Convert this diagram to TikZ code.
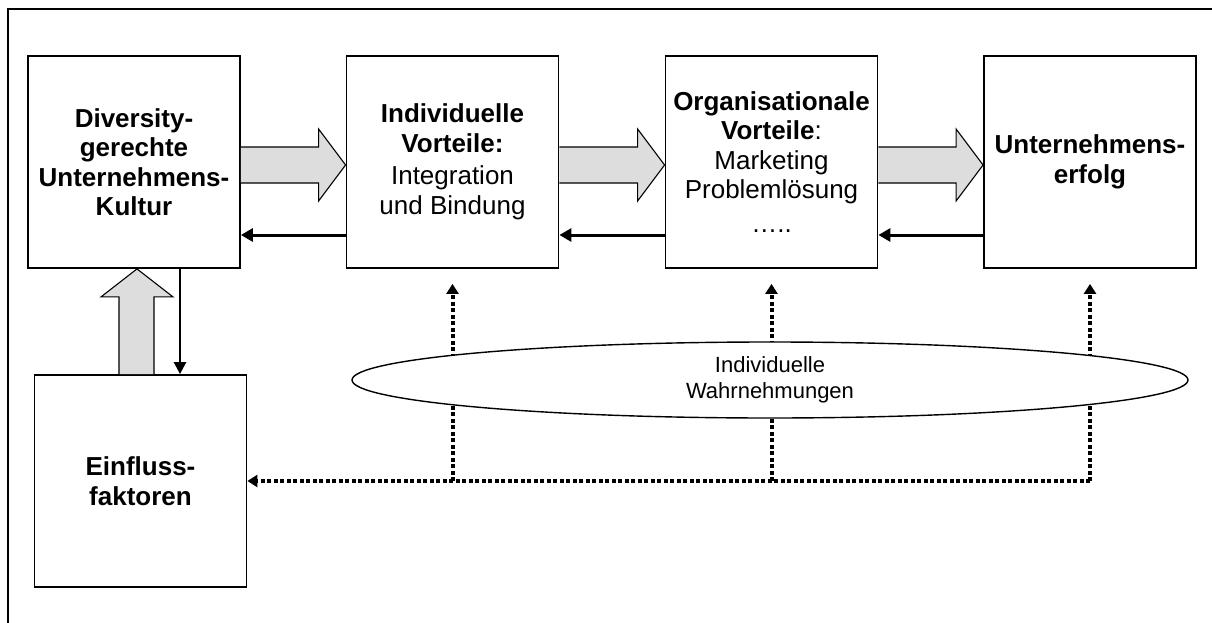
\documentclass[tikz,border=0pt]{standalone}
\usepackage{fontspec}
\setmainfont{Liberation Sans}
\usetikzlibrary{arrows.meta,calc,shapes.geometric}
\definecolor{arrowgray}{RGB}{221,221,221}
\tikzset{
  box/.style={draw=black, line width=1.8pt, fill=white, minimum width=212pt,
    minimum height=212pt, inner sep=0pt, align=center,
    font=\fontsize{26}{29.5}\selectfont},
  fatarrow/.style={fill=arrowgray, draw=black, line width=1.1pt, line join=miter},
  backarrow/.style={line width=3pt, -{Triangle[length=12pt,width=13pt]}},
  downarrow/.style={line width=2.5pt, -{Triangle[length=12pt,width=12pt]}},
  dotline/.style={line width=4pt, dash pattern=on 4pt off 2.5pt},
  dotarrow/.style={dotline, -{Triangle[length=10pt,width=12pt]}},
  perception/.style={ellipse, draw=black, line width=1.4pt, fill=white,
    minimum width=836pt, minimum height=76pt, inner sep=0pt, align=center,
    font=\fontsize{22}{26}\selectfont},
  frame/.style={line width=1.8pt}
}
\newcommand{\fatright}[2]{%
  \filldraw[fatarrow]
    ($(#1.east)+(0,-15)$) -- ($(#2.west)+(-27,-15)$) -- ($(#2.west)+(-27,-33)$)
    -- ($(#2.west)+(0,3)$) -- ($(#2.west)+(-27,39)$) -- ($(#2.west)+(-27,21)$)
    -- ($(#1.east)+(0,21)$);}
\begin{document}
\begin{tikzpicture}[x=1pt, y=-1pt]
\useasboundingbox (0,0) rectangle (1212,623);

% outer frame (open to the right and bottom)
\draw[frame] (8,623) -- (8,9) -- (1212,9);

% main chain of boxes
\node[box] (kultur) at (134,162)
  {\textbf{Diversity-}\\\textbf{gerechte}\\\textbf{Unternehmens-}\\\textbf{Kultur}};
\node[box] (indiv) at (452.5,162)
  {\textbf{Individuelle}\\\textbf{Vorteile:}\\[3pt]Integration\\und Bindung};
\node[box] (orga) at (771.5,162)
  {\textbf{Organisationale}\\\textbf{Vorteile}:\\Marketing\\Problemlösung\\[4pt]…..};
\node[box] (erfolg) at (1090,162)
  {\textbf{Unternehmens-}\\\textbf{erfolg}};
\node[box] (einfluss) at (140.5,481)
  {\textbf{Einfluss-}\\\textbf{faktoren}};

% broad grey arrows between the boxes
\fatright{kultur}{indiv}
\fatright{indiv}{orga}
\fatright{orga}{erfolg}

% feedback arrows
\draw[backarrow] ($(indiv.west)+(0,73)$) -- ($(kultur.east)+(0,73)$);
\draw[backarrow] ($(orga.west)+(0,73)$) -- ($(indiv.east)+(0,73)$);
\draw[backarrow] ($(erfolg.west)+(0,73)$) -- ($(orga.east)+(0,73)$);

% influence factors feed the culture
\coordinate (upL) at ($(kultur.south)+(-15,0)$);
\coordinate (upR) at ($(kultur.south)+(20,0)$);
\filldraw[fatarrow]
  (upL |- einfluss.north) -- ($(upL)+(0,28)$)
  -- ($(kultur.south)+(-33,28)$) -- ($(kultur.south)+(3,0)$)
  -- ($(kultur.south)+(39,28)$) -- ($(upR)+(0,28)$)
  -- (upR |- einfluss.north);
\coordinate (downstart) at ($(kultur.south)+(46,0)$);
\draw[downarrow] (downstart) -- (downstart |- einfluss.north);

% dotted perception links
\coordinate (corner) at (erfolg.south |- einfluss.east);
\coordinate (footI) at (indiv.south |- einfluss.east);
\coordinate (footO) at (orga.south |- einfluss.east);
\draw[dotarrow] (corner) -- (einfluss.east);
\draw[dotarrow] (corner) -- ($(erfolg.south)+(0,15)$);
\draw[dotarrow] (footI) -- ($(indiv.south)+(0,15)$);
\draw[dotarrow] (footO) -- ($(orga.south)+(0,15)$);

\node[perception] (wahr) at (770,380) {Individuelle\\Wahrnehmungen};
\end{tikzpicture}
\end{document}
